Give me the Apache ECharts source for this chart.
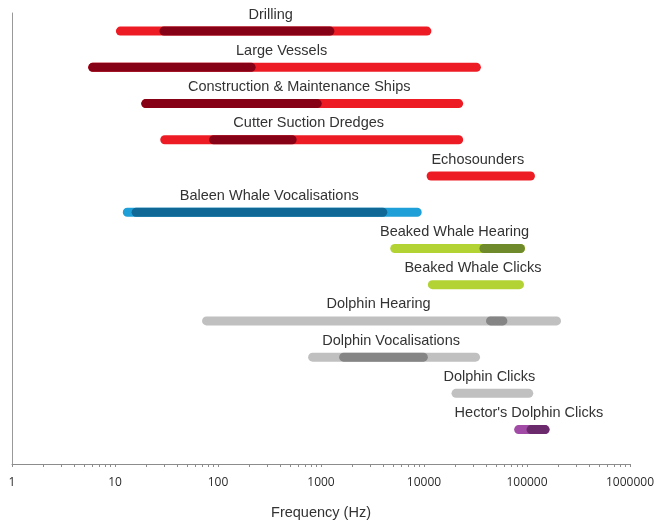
<!DOCTYPE html>
<html>
<head>
<meta charset="utf-8">
<script src="https://cdn.jsdelivr.net/npm/echarts@6/dist/echarts.min.js"></script>
<style>
html,body{margin:0;padding:0;background:#fff;}
#chart{width:654px;height:524px;}
</style>
</head>
<body>
<div id="chart"></div>
<script>
// Source categories (top to bottom)
const categories = [
  'Drilling', 'Large Vessels', 'Construction & Maintenance Ships', 'Cutter Suction Dredges',
  'Echosounders', 'Baleen Whale Vocalisations', 'Beaked Whale Hearing', 'Beaked Whale Clicks',
  'Dolphin Hearing', 'Dolphin Vocalisations', 'Dolphin Clicks', "Hector's Dolphin Clicks"
];
// Full frequency range (Hz)
const rangeLow  = [10.2, 5.5, 18, 27.5, 10600, 11.9, 4700, 10900, 70, 750, 18500, 75000];
const rangeHigh = [11800, 35700, 24000, 24000, 119500, 9500, 95500, 93500, 214000, 35000, 115000, 166000];
// Dominant / main frequency range (Hz); null = none
const mainLow   = [27, 5.5, 18, 82, null, 14.5, 34500, null, 40000, 1500, null, 99000];
const mainHigh  = [1350, 232, 1016, 580, null, 4400, 95500, null, 64500, 10900, null, 165000];
// X-axis tick labels
const tickLabels = [1, 10, 100, 1000, 10000, 100000, 1000000];

const lightColors = ['#ED1C24','#ED1C24','#ED1C24','#ED1C24','#ED1C24','#1E9FD8','#B3D335','#B3D335','#C0C0C0','#C0C0C0','#C0C0C0','#A24BA6'];
const darkColors  = ['#860016','#860016','#860016','#860016','#860016','#0F6896','#6E8A2B','#6E8A2B','#858585','#858585','#858585','#6A2A6C'];

const minorTicks = [];
for (let d = 1; d < 1000000; d *= 10) {
  for (let k = 1; k < 10; k++) minorTicks.push(d * k);
}
minorTicks.push(1000000);

const data = categories.map((c, i) => [i, rangeLow[i], rangeHigh[i], mainLow[i], mainHigh[i]]);

const chart = echarts.init(document.getElementById('chart'), null, {renderer: 'canvas'});
const BAR_H = 9;

function renderItem(params, api) {
  const i = api.value(0);
  const children = [];
  const p1 = api.coord([api.value(1), i]);
  const p2 = api.coord([api.value(2), i]);
  children.push({
    type: 'rect',
    shape: {x: p1[0], y: p1[1] - BAR_H / 2, width: p2[0] - p1[0], height: BAR_H, r: BAR_H / 2},
    style: {fill: lightColors[i]}
  });
  const ml = mainLow[i], mh = mainHigh[i];
  if (ml != null && mh != null) {
    const q1 = api.coord([ml, i]);
    const q2 = api.coord([mh, i]);
    children.push({
      type: 'rect',
      shape: {x: q1[0], y: q1[1] - BAR_H / 2, width: q2[0] - q1[0], height: BAR_H, r: BAR_H / 2},
      style: {fill: darkColors[i]}
    });
  }
  children.push({
    type: 'text',
    style: {
      text: categories[i],
      x: (p1[0] + p2[0]) / 2 - 3,
      y: p1[1] - 16.5,
      align: 'center',
      verticalAlign: 'middle',
      fontSize: 14.5,
      fontFamily: 'Liberation Sans, Arial, sans-serif',
      fill: '#333333'
    }
  });
  return {type: 'group', children: children};
}

chart.setOption({
  animation: false,
  backgroundColor: '#ffffff',
  grid: {left: 12, right: 24, top: 13, bottom: 60, containLabel: false, outerBoundsMode: 'none'},
  xAxis: {
    type: 'log',
    logBase: 10,
    min: 1,
    max: 1000000,
    name: 'Frequency (Hz)',
    nameLocation: 'middle',
    nameGap: 41,
    nameTextStyle: {fontSize: 14.5, fontFamily: 'Liberation Sans, Arial, sans-serif', color: '#333'},
    axisLine: {onZero: false, lineStyle: {color: '#8c8c8c', width: 1}},
    axisTick: {show: true, length: 3, inside: false, customValues: minorTicks, lineStyle: {color: '#8c8c8c'}},
    minorTick: {show: false},
    splitLine: {show: false},
    axisLabel: {
      customValues: tickLabels,
      margin: 13,
      fontSize: 12,
      fontFamily: 'Open Sans, sans-serif',
      color: '#2b2b2b',
      formatter: v => String(Math.round(v))
    }
  },
  yAxis: {
    type: 'value',
    inverse: true,
    min: -0.5,
    max: 11.95,
    axisLine: {show: true, onZero: false, lineStyle: {color: '#999', width: 1}},
    axisTick: {show: false},
    axisLabel: {show: false},
    splitLine: {show: false}
  },
  series: [{
    type: 'custom',
    renderItem: renderItem,
    data: data,
    encode: {x: [1, 2], y: 0},
    clip: false
  }]
});
</script>
</body>
</html>
